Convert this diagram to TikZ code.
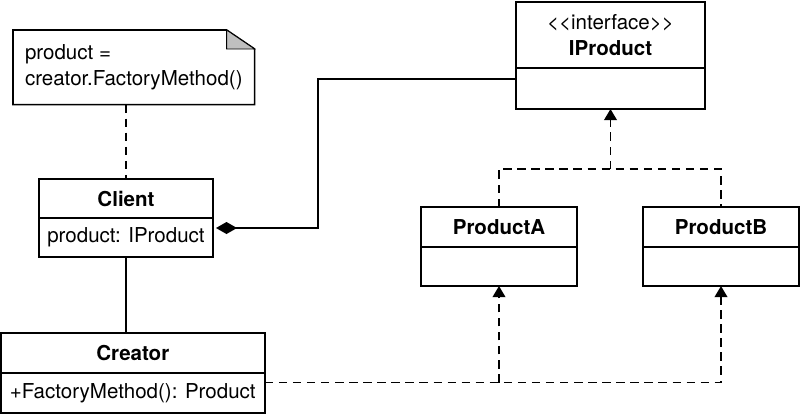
\documentclass[tikz,border=0pt]{standalone}
\usepackage{fontspec}
\setmainfont{TeX Gyre Heros}
\usetikzlibrary{arrows.meta,positioning,calc}

\begin{document}
\begin{tikzpicture}[>={Triangle[length=0.28cm,width=0.32cm]}, line width=1.15pt,
  font=\fontsize{14.6}{18}\selectfont,
  classhead/.style={draw, anchor=north west, outer sep=0pt, inner sep=0pt,
    minimum height=0.975cm, font=\fontsize{14.6}{18}\selectfont\bfseries},
  classbody/.style={draw, outer sep=0pt, inner sep=0pt, minimum height=0.975cm},
  realize/.style={dash pattern=on 6pt off 4pt}]
  \useasboundingbox (0,0) rectangle (20,10.35);

  % note
  \node[anchor=north west, minimum width=6cm, minimum height=1.825cm, align=left, inner sep=0pt] (note) at (0.325,9.6) {product =\\creator.FactoryMethod()};
  \draw (note.north west) -- ($(note.north east)+(-0.7,0)$) -- ($(note.north east)+(0,-0.475)$) -- (note.south east) -- (note.south west) -- cycle;
  \draw[line width=0.6pt, fill=gray!50] ($(note.north east)+(-0.7,0)$) -- ++(0,-0.475) -- ($(note.north east)+(0,-0.475)$) -- cycle;

  % classes
  \node[classhead, minimum width=4.35cm] (client) at (0.975,5.875) {Client};
  \node[classbody, minimum width=4.35cm, below=0pt of client] (clientbody) {product: IProduct};
  \node[classhead, minimum width=6.6cm, minimum height=1cm] (creator) at (0.02,2.025) {Creator};
  \node[classbody, minimum width=6.6cm, minimum height=1cm, below=0pt of creator] (creatorbody) {+FactoryMethod(): Product};
  \node[classhead, minimum width=4.725cm, minimum height=1.65cm, align=center] (iproduct) at (12.9,10.3) {{\mdseries <{}<interface>{}>}\\IProduct};
  \node[classbody, minimum width=4.725cm, minimum height=1.025cm, below=0pt of iproduct] (iproductbody) {};
  \node[classhead, minimum width=3.9cm, minimum height=1cm] (producta) at (10.525,5.175) {ProductA};
  \node[classbody, minimum width=3.9cm, below=0pt of producta] (productabody) {};
  \node[classhead, minimum width=3.9cm, minimum height=1cm] (productb) at (16.075,5.175) {ProductB};
  \node[classbody, minimum width=3.9cm, below=0pt of productb] (productbbody) {};

  % connectors
  \draw[realize] (note.south -| client.north) -- (client.north);
  \draw (clientbody.south) -- (clientbody.south |- creator.north);
  \coordinate (comp) at ($(clientbody.north east)+(0.075,-0.25)$);
  \coordinate (iport) at ($(iproductbody.north west)+(0,-0.275)$);
  \draw[{Diamond[length=0.525cm,width=0.3cm]}-] (comp) -- ++(2.55,0) |- (iport);
  \coordinate (join) at ($(iproductbody.south)+(0,-1.5)$);
  \draw[realize] (producta.north) |- (join) -| (productb.north);
  \draw[realize,->] (join) -- (iproductbody.south);
  \coordinate (cport) at ($(creatorbody.north east)+(0,-0.24)$);
  \draw[realize,->] (cport) -| (productbbody.south);
  \draw[realize,->] (cport -| productabody.south) -- (productabody.south);
\end{tikzpicture}
\end{document}
